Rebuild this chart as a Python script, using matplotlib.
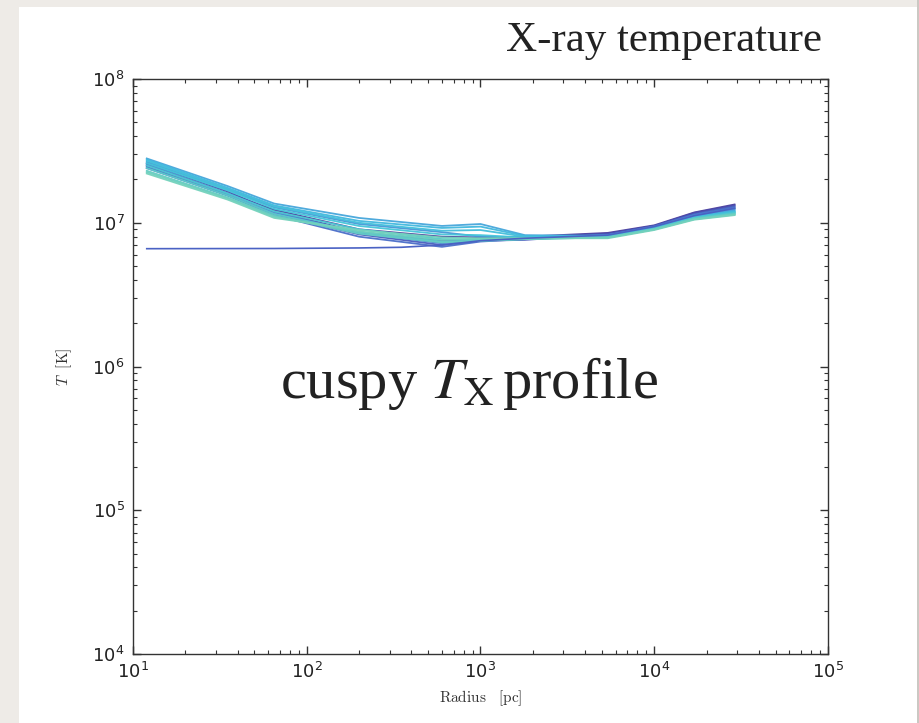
import matplotlib
matplotlib.use("Agg")
import matplotlib.pyplot as plt
from matplotlib.patches import Rectangle
from matplotlib.colors import LinearSegmentedColormap
import matplotlib.ticker as mticker

# Radius grid [pc]
radius = [12, 35, 65, 200, 600, 1000, 1800, 5400, 10000, 17000, 29000]

# Temperature profiles [1e6 K], ordered dark -> light colour
T0 = [25.0, 16.0, 12.3, 9.0, 8.0, 7.9, 8.0, 8.5, 9.6, 11.8, 13.4]
T1 = [26.0, 16.5, 12.0, 8.6, 7.5, 7.6, 7.9, 8.4, 9.5, 11.7, 13.2]
T2 = [24.0, 15.5, 11.5, 8.3, 7.0, 7.5, 7.6, 8.3, 9.5, 11.5, 13.0]
T3 = [24.5, 15.5, 11.3, 8.0, 6.8, 7.4, 7.7, 8.2, 9.4, 11.4, 12.8]
T4 = [25.5, 16.0, 11.8, 8.5, 7.2, 7.6, 7.8, 8.2, 9.4, 11.3, 12.6]
T5 = [26.5, 17.0, 12.8, 9.8, 8.6, 8.0, 7.9, 8.2, 9.3, 11.2, 12.4]
T6 = [28.0, 18.0, 13.6, 10.8, 9.5, 9.8, 8.2, 8.1, 9.3, 11.1, 12.2]
T7 = [27.5, 17.5, 13.2, 10.3, 9.2, 9.4, 8.1, 8.1, 9.2, 11.0, 12.0]
T8 = [27.0, 17.2, 13.0, 10.0, 8.8, 8.9, 8.0, 8.0, 9.2, 10.9, 11.9]
T9 = [26.0, 16.8, 12.5, 9.5, 8.3, 8.2, 7.9, 8.0, 9.1, 10.8, 11.8]
T10 = [25.0, 16.0, 12.0, 9.0, 7.7, 7.6, 7.7, 8.0, 9.1, 10.8, 11.7]
T11 = [24.0, 15.5, 11.5, 8.6, 7.4, 7.5, 7.7, 7.9, 9.0, 10.7, 11.6]
T12 = [23.0, 15.0, 11.2, 8.4, 7.3, 7.5, 7.7, 7.9, 9.0, 10.6, 11.5]
T13 = [22.5, 14.8, 11.0, 8.7, 7.6, 7.7, 7.8, 7.9, 9.0, 10.6, 11.4]
T14 = [22.0, 14.5, 10.8, 8.9, 7.9, 7.8, 7.8, 7.8, 8.9, 10.5, 11.3]
profiles = [T0, T1, T2, T3, T4, T5, T6, T7, T8, T9, T10, T11, T12, T13, T14]

# initial (flat) profile
radius_flat = [12, 65, 200, 350, 600, 1000, 1800, 5400, 10000, 17000, 29000]
T_flat = [6.6, 6.62, 6.68, 6.75, 7.0, 7.5, 7.8, 8.2, 9.4, 11.2, 12.6]

title_text = "X-ray temperature"
annotation = r"cuspy $T_{\mathrm{X}}\,$profile"
xlabel_text = r"$\mathrm{Radius}\ \ \ [\mathrm{pc}]$"
ylabel_text = r"$T\ \ [\mathrm{K}]$"

W, H = 920, 723
fig = plt.figure(figsize=(W / 100, H / 100), dpi=100)
fig.patch.set_facecolor("#eeebe7")
fig.patches.append(Rectangle((19 / W, 0), (917 - 19) / W, (H - 7) / H,
                             transform=fig.transFigure, facecolor="white",
                             edgecolor="none", zorder=-10))
fig.patches.append(Rectangle((917 / W, 0), 3 / W, 1,
                             transform=fig.transFigure, facecolor="#cbc8c3",
                             edgecolor="none", zorder=-10))

ax = fig.add_axes([133 / W, (H - 654) / H, (828 - 133) / W, (654 - 79) / H])
ax.set_zorder(5)
ax.set_facecolor("white")

cmap = LinearSegmentedColormap.from_list(
    "c", ["#4a3c9c", "#4a62c4", "#4a8fd6", "#41b8de", "#46c6d8", "#62ccc6", "#74d2bc"])
n = len(profiles)
for i, prof in enumerate(profiles):
    ax.plot(radius, [v * 1e6 for v in prof], color=cmap(i / (n - 1)), lw=1.3, alpha=0.95)
ax.plot(radius_flat, [v * 1e6 for v in T_flat], color="#4a62c4", lw=1.2)

ax.set_xscale("log")
ax.set_yscale("log")
ax.set_xlim(1e1, 1e5)
ax.set_ylim(1e4, 1e8)
ax.xaxis.set_major_locator(mticker.LogLocator(base=10, numticks=10))
ax.yaxis.set_major_locator(mticker.LogLocator(base=10, numticks=10))
ax.tick_params(which="both", direction="in", top=True, right=True, colors="#333333")
ax.tick_params(which="major", length=6, width=1, labelsize=13, labelcolor="#222222", pad=6)
ax.tick_params(which="minor", length=3, width=0.8)
for s in ax.spines.values():
    s.set_color("#333333")
    s.set_linewidth(1.0)

ax.set_xlabel(xlabel_text, fontsize=11, color="#333333", math_fontfamily="cm", labelpad=4)
ax.set_ylabel(ylabel_text, fontsize=11, color="#333333", math_fontfamily="cm", labelpad=13)

fig.text(822 / W, 1 - 51 / H, title_text, ha="right", va="baseline",
         fontsize=31, family="Liberation Serif", color="#222222", zorder=6)
fig.text(469 / W, 1 - 398 / H, annotation, ha="center", va="baseline",
         fontsize=42, family="Liberation Serif", math_fontfamily="stix",
         color="#222222", zorder=6)

fig.savefig("out.png", dpi=100, facecolor=fig.get_facecolor())
